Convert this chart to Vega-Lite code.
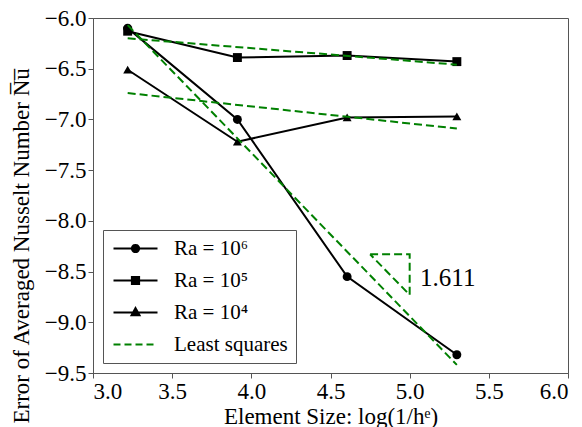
{
  "$schema": "https://vega.github.io/schema/vega-lite/v6.json",
  "width": 475,
  "height": 355,
  "autosize": {"type": "none"},
  "padding": {"left": 93, "top": 18, "right": 14, "bottom": 54},
  "background": "white",
  "config": {
    "font": "Liberation Serif",
    "view": {"stroke": "#555", "strokeWidth": 1},
    "axis": {
      "grid": false,
      "labelFont": "Liberation Serif",
      "labelFontSize": 23,
      "labelColor": "black",
      "titleFont": "Liberation Serif",
      "titleFontSize": 23,
      "titleFontWeight": "normal",
      "titleColor": "black",
      "domainColor": "#555",
      "tickColor": "#555",
      "tickSize": 5,
      "labelPadding": 2
    },
    "legend": {"labelFont": "Liberation Serif"},
    "text": {"font": "Liberation Serif"}
  },
  "datasets": {
    "data": [
      {"s": "Ra = 10⁶", "g": "d6", "x": 3.219, "y": -6.10},
      {"s": "Ra = 10⁶", "g": "d6", "x": 3.912, "y": -7.00},
      {"s": "Ra = 10⁶", "g": "d6", "x": 4.605, "y": -8.55},
      {"s": "Ra = 10⁶", "g": "d6", "x": 5.298, "y": -9.32},
      {"s": "Ra = 10⁵", "g": "d5", "x": 3.219, "y": -6.13},
      {"s": "Ra = 10⁵", "g": "d5", "x": 3.912, "y": -6.39},
      {"s": "Ra = 10⁵", "g": "d5", "x": 4.605, "y": -6.37},
      {"s": "Ra = 10⁵", "g": "d5", "x": 5.298, "y": -6.43},
      {"s": "Ra = 10⁴", "g": "d4", "x": 3.219, "y": -6.51},
      {"s": "Ra = 10⁴", "g": "d4", "x": 3.912, "y": -7.22},
      {"s": "Ra = 10⁴", "g": "d4", "x": 4.605, "y": -6.98},
      {"s": "Ra = 10⁴", "g": "d4", "x": 5.298, "y": -6.97}
    ],
    "ls": [
      {"s": "Least squares", "g": "l6", "x": 3.219, "y": -6.07},
      {"s": "Least squares", "g": "l6", "x": 5.298, "y": -9.42},
      {"s": "Least squares", "g": "l5", "x": 3.219, "y": -6.20},
      {"s": "Least squares", "g": "l5", "x": 5.298, "y": -6.46},
      {"s": "Least squares", "g": "l4", "x": 3.219, "y": -6.74},
      {"s": "Least squares", "g": "l4", "x": 5.298, "y": -7.09}
    ],
    "tri": [
      {"i": 0, "x": 4.75, "y": -8.33},
      {"i": 1, "x": 5.0, "y": -8.33},
      {"i": 2, "x": 5.0, "y": -8.73},
      {"i": 3, "x": 4.75, "y": -8.33}
    ],
    "note": [{"x": 5.066, "y": -8.56, "t": "1.611"}]
  },
  "layer": [
    {
      "data": {"name": "data"},
      "mark": {"type": "line", "strokeWidth": 2},
      "encoding": {
        "x": {"field": "x", "type": "quantitative", "scale": {"domain": [3, 6], "nice": false},
              "axis": {"values": [3, 3.5, 4, 4.5, 5, 5.5, 6], "format": ".1f", "title": "Element Size: log(1/hᵉ)", "titlePadding": 2}},
        "y": {"field": "y", "type": "quantitative", "scale": {"domain": [-9.5, -6], "nice": false, "zero": false},
              "axis": {"values": [-9.5, -9, -8.5, -8, -7.5, -7, -6.5, -6], "format": ".1f", "title": "Error of Averaged Nusselt Number N̅u̅",
                       "titleAnchor": "start", "titleAngle": -90, "titleAlign": "left", "titleBaseline": "middle", "titleX": -72, "titleY": 405}},
        "color": {"field": "s", "type": "nominal",
          "scale": {"domain": ["Ra = 10⁶", "Ra = 10⁵", "Ra = 10⁴", "Least squares"], "range": ["black", "black", "black", "#008000"]},
          "legend": {
            "title": null, "orient": "bottom-left", "offset": 10, "padding": 8,
            "strokeColor": "#555", "fillColor": "white", "cornerRadius": 0,
            "labelFontSize": 21, "labelColor": "black",
            "symbolSize": 256, "symbolStrokeWidth": 2, "symbolOffset": 14, "labelOffset": 28, "rowPadding": 10,
            "encode": {"symbols": {"update": {
              "shape": {"signal": "datum.value === 'Least squares' ? 'M-2.75,0H2.75' : datum.value === 'Ra = 10⁶' ? 'M-2.75,0H2.75M0.45,0A0.45,0.45,0,1,1,-0.45,0A0.45,0.45,0,1,1,0.45,0Z' : datum.value === 'Ra = 10⁵' ? 'M-2.75,0H2.75M-0.45,-0.45H0.45V0.45H-0.45Z' : 'M-2.75,0H2.75M0,-0.55L0.5,0.35L-0.5,0.35Z'"},
              "fill": {"signal": "datum.value === 'Least squares' ? 'transparent' : 'black'"},
              "strokeDash": {"signal": "datum.value === 'Least squares' ? [7, 4] : [1, 0]"},
              "opacity": {"value": 1}
            }}}
          }},
        "detail": {"field": "g"}
      }
    },
    {
      "data": {"name": "data"},
      "mark": {"type": "point", "filled": true, "opacity": 1, "size": 80, "color": "black"},
      "encoding": {
        "x": {"field": "x", "type": "quantitative"},
        "y": {"field": "y", "type": "quantitative"},
        "shape": {"field": "s", "type": "nominal",
          "scale": {"domain": ["Ra = 10⁶", "Ra = 10⁵", "Ra = 10⁴"], "range": ["circle", "square", "triangle-up"]},
          "legend": null}
      }
    },
    {
      "data": {"name": "ls"},
      "mark": {"type": "line", "strokeWidth": 2, "strokeDash": [8, 4]},
      "encoding": {
        "x": {"field": "x", "type": "quantitative"},
        "y": {"field": "y", "type": "quantitative"},
        "color": {"field": "s", "type": "nominal"},
        "detail": {"field": "g"}
      }
    },
    {
      "data": {"name": "tri"},
      "mark": {"type": "line", "strokeWidth": 2, "strokeDash": [8, 4], "color": "#008000"},
      "encoding": {
        "x": {"field": "x", "type": "quantitative"},
        "y": {"field": "y", "type": "quantitative"},
        "order": {"field": "i", "type": "quantitative"}
      }
    },
    {
      "data": {"name": "note"},
      "mark": {"type": "text", "align": "left", "baseline": "middle", "fontSize": 25, "color": "black"},
      "encoding": {
        "x": {"field": "x", "type": "quantitative"},
        "y": {"field": "y", "type": "quantitative"},
        "text": {"field": "t"}
      }
    }
  ]
}
